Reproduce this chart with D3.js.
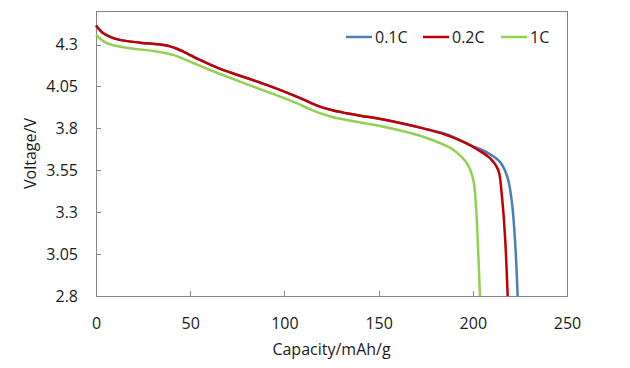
<!DOCTYPE html>
<html><head><meta charset="utf-8">
<script src="https://cdn.jsdelivr.net/npm/d3@7"></script>
<style>
body{margin:0;background:#fff;}
text{font-family:"Open Sans",sans-serif;fill:#1a1a1a;}
</style></head>
<body><svg id="c" width="630" height="368"></svg>
<script>
const seriesNames = ["0.1C", "0.2C", "1C"];
const seriesColors = ["#4A7EBB", "#C00000", "#92D050"];
const xTicks = [0, 50, 100, 150, 200, 250];
const yTicks = [2.8, 3.05, 3.3, 3.55, 3.8, 4.05, 4.3];

const cap01 = [0, 3.9, 11, 23.4, 33, 39.3, 43, 46.3, 55.2, 64.9, 76.4, 90.6, 106.5, 114, 120, 126, 133, 141, 149, 173.7, 186, 198.5, 207, 214.4, 218.3, 220.6, 222.4, 223.8];
const volt01 = [4.413, 4.367, 4.332, 4.311, 4.301, 4.289, 4.275, 4.258, 4.208, 4.159, 4.114, 4.059, 3.989, 3.952, 3.925, 3.906, 3.89, 3.874, 3.86, 3.80, 3.765, 3.70, 3.66, 3.60, 3.512, 3.373, 3.134, 2.80];
const cap02 = [0, 3.9, 11, 23.4, 33, 39.3, 43, 46.3, 55.2, 64.9, 76.4, 90.6, 106.5, 114, 120, 126, 133, 141, 149, 173.7, 186, 196.8, 203, 209.1, 213.5, 215.3, 217.1, 218.5];
const volt02 = [4.413, 4.367, 4.332, 4.311, 4.301, 4.289, 4.275, 4.258, 4.208, 4.159, 4.114, 4.059, 3.989, 3.952, 3.925, 3.906, 3.89, 3.874, 3.86, 3.80, 3.76, 3.711, 3.67, 3.622, 3.552, 3.413, 3.154, 2.80];
const cap1C = [0, 5.7, 14.5, 32.2, 41, 49.9, 60.5, 76.4, 90.6, 106.5, 114, 120, 126, 133, 141, 149, 173.7, 186, 190, 194, 197, 200.3, 201.7, 202.9, 203.8];
const volt1C = [4.357, 4.308, 4.284, 4.258, 4.238, 4.198, 4.148, 4.079, 4.019, 3.95, 3.912, 3.886, 3.866, 3.85, 3.834, 3.818, 3.75, 3.695, 3.67, 3.63, 3.59, 3.492, 3.333, 3.055, 2.80];

const svg = d3.select("#c");
const L = 96, R = 567, T = 11, B = 296;
const x = d3.scaleLinear().domain([0, 250]).range([L, R]);
const y = d3.scaleLinear().domain([2.8, 4.5]).range([B, T]);
const axisColor = "#868686";

// frame
svg.append("rect").attr("x", L).attr("y", T).attr("width", R - L).attr("height", B - T)
  .attr("fill", "none").attr("stroke", axisColor).attr("stroke-width", 1).attr("shape-rendering", "crispEdges");

const xAxis = svg.append("g").attr("transform", `translate(0,${B})`)
  .call(d3.axisBottom(x).tickValues(xTicks).tickSizeInner(-5).tickSizeOuter(0).tickPadding(22).tickFormat(d3.format("d")));
const yAxis = svg.append("g").attr("transform", `translate(${L},0)`)
  .call(d3.axisLeft(y).tickValues(yTicks).tickSizeInner(-5).tickSizeOuter(0).tickPadding(18).tickFormat(d => String(d)));
[xAxis, yAxis].forEach(g => {
  g.select(".domain").attr("stroke", axisColor).attr("shape-rendering", "crispEdges");
  g.selectAll(".tick line").attr("stroke", axisColor).attr("shape-rendering", "crispEdges");
  g.selectAll(".tick text").attr("font-size", 16).attr("font-family", "Open Sans").attr("fill", "#1a1a1a");
});

const data = [
  cap01.map((c, i) => [c, volt01[i]]),
  cap02.map((c, i) => [c, volt02[i]]),
  cap1C.map((c, i) => [c, volt1C[i]])
];
const line = d3.line().x(d => x(d[0])).y(d => y(d[1])).curve(d3.curveCatmullRom.alpha(0.5));
data.forEach((d, i) => {
  svg.append("path").datum(d).attr("d", line).attr("fill", "none")
    .attr("stroke", seriesColors[i]).attr("stroke-width", 2.5);
});

// legend
const legX = [346, 423, 501];
seriesNames.forEach((n, i) => {
  svg.append("line").attr("x1", legX[i]).attr("x2", legX[i] + 26).attr("y1", 37).attr("y2", 37)
    .attr("stroke", seriesColors[i]).attr("stroke-width", 2.5);
  svg.append("text").attr("x", legX[i] + 29).attr("y", 43).attr("font-size", 16).text(n);
});

svg.append("text").attr("x", (L + R) / 2).attr("y", 355).attr("text-anchor", "middle")
  .attr("font-size", 16).text("Capacity/mAh/g");
svg.append("text").attr("transform", `translate(36,${(T + B) / 2}) rotate(-90)`).attr("text-anchor", "middle")
  .attr("font-size", 16).text("Voltage/V");
</script></body></html>
